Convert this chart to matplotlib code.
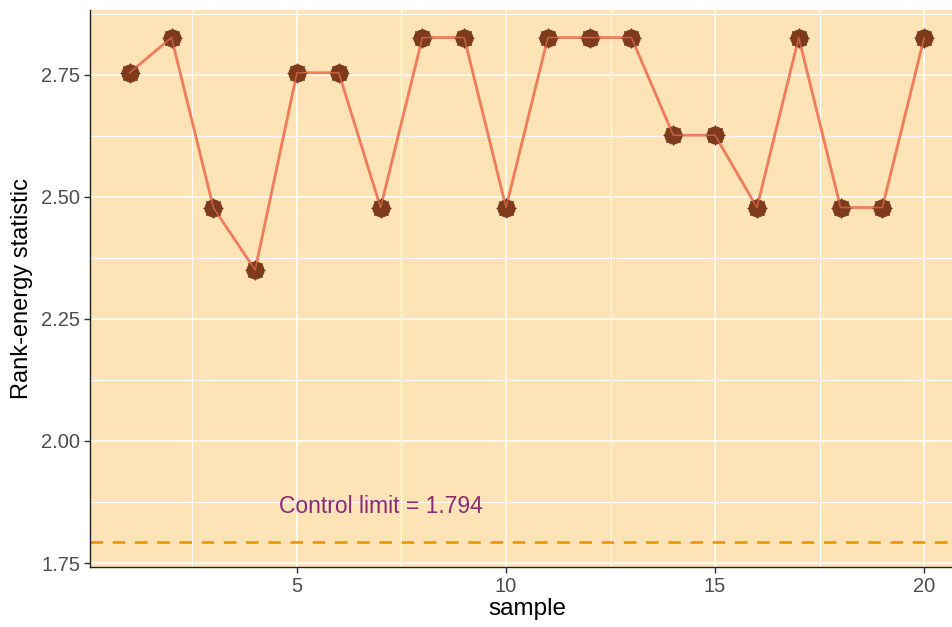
import matplotlib
matplotlib.use("Agg")
import matplotlib.pyplot as plt
from matplotlib.ticker import MultipleLocator, FormatStrFormatter

plt.rcParams["font.family"] = ["Liberation Sans", "DejaVu Sans"]

# Rank-energy statistic per sample
samples = list(range(1, 21))
statistic = [2.754, 2.826, 2.478, 2.350, 2.754, 2.754, 2.478, 2.826, 2.826, 2.478,
             2.826, 2.826, 2.826, 2.626, 2.626, 2.478, 2.826, 2.478, 2.478, 2.826]
control_limit = 1.794
limit_label = "Control limit = 1.794"

fig = plt.figure(figsize=(9.52, 6.27), dpi=100)
ax = fig.add_axes([0.0945, 0.0957, 0.918, 0.888])
ax.set_facecolor("#FDE3B5")

ax.set_xlim(0.05, 20.95)
ax.set_ylim(1.742, 2.882)
ax.xaxis.set_major_locator(MultipleLocator(5))
ax.xaxis.set_minor_locator(MultipleLocator(2.5))
ax.yaxis.set_major_locator(MultipleLocator(0.25))
ax.yaxis.set_minor_locator(MultipleLocator(0.125))
ax.grid(which="major", color="white", linewidth=1.1)
ax.grid(which="minor", color="white", linewidth=0.8)
ax.set_axisbelow(True)
ax.yaxis.set_major_formatter(FormatStrFormatter("%.2f"))

for side in ("top", "right"):
    ax.spines[side].set_visible(False)
for side in ("left", "bottom"):
    ax.spines[side].set_color("#222222")
    ax.spines[side].set_linewidth(1.0)

ax.tick_params(which="major", length=4, width=1.0, color="#333333",
               labelsize=14.5, labelcolor="#4D4D4D", pad=3)
ax.tick_params(which="minor", length=0)

ax.axhline(control_limit, color="#EE9A00", linestyle=(0, (4.5, 3.5)), linewidth=2.0, zorder=2)
ax.text(7.0, control_limit + 0.072, limit_label, color="#8B2A72", fontsize=16.5,
        ha="center", va="center", zorder=3)

ax.plot(samples, statistic, color="#F07C5C", linewidth=2.0, zorder=3)
ax.plot(samples, statistic, linestyle="none", marker=(8, 2, 0), markersize=14,
        markeredgecolor="#3A1A0C", markeredgewidth=0.8, zorder=4)
ax.plot(samples, statistic, linestyle="none", marker="o", markersize=12,
        markerfacecolor="#7F3A1C", markeredgecolor="#7F3A1C", zorder=5)
ax.plot(samples, statistic, color="#F07C5C", linewidth=1.2, zorder=6, alpha=0.6)

ax.set_xlabel("sample", fontsize=17.5, color="black", labelpad=2)
ax.set_ylabel("Rank-energy statistic", fontsize=17, color="black", labelpad=6)

fig.savefig("out.png", dpi=100)
